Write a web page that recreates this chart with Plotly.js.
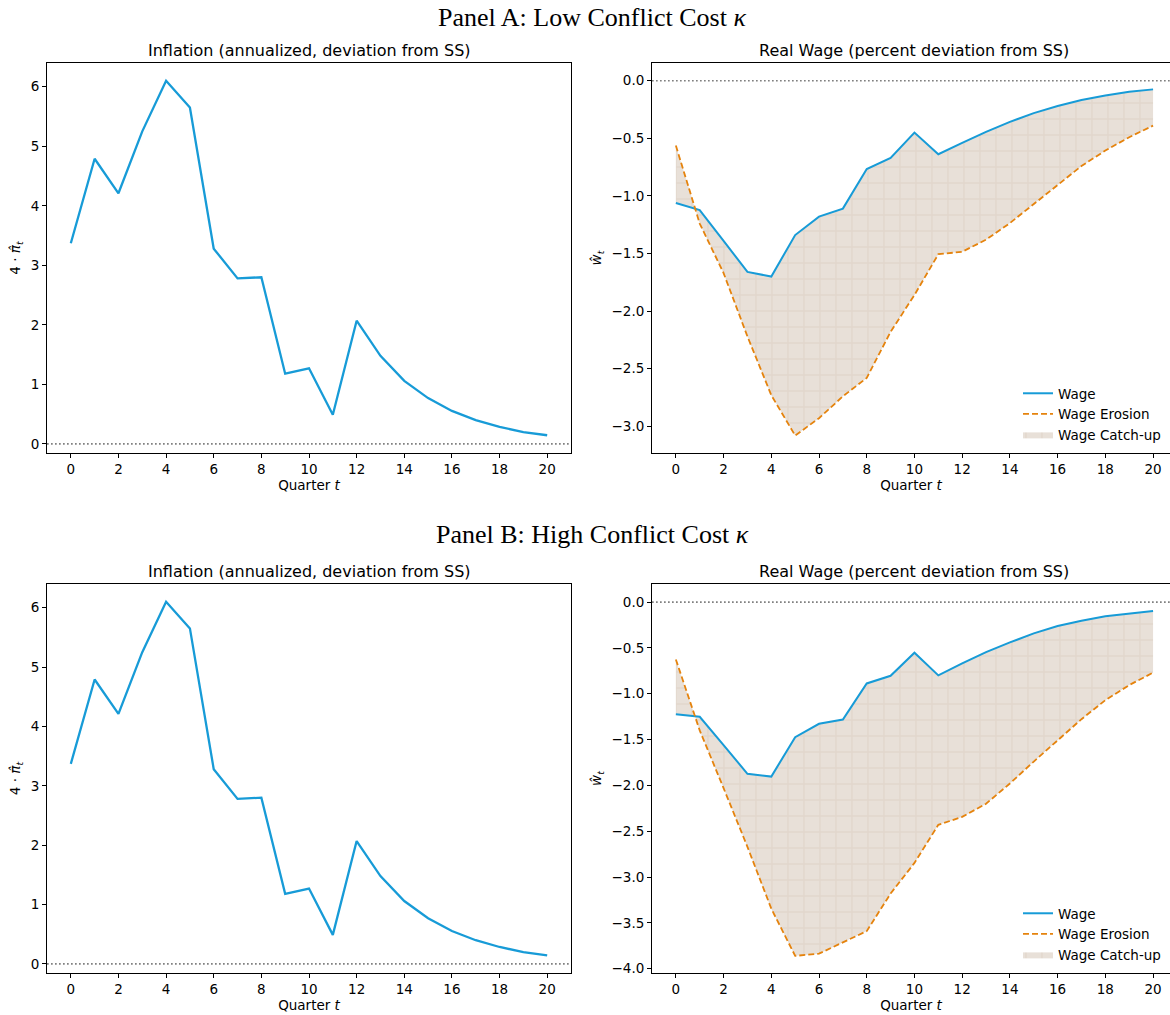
<!DOCTYPE html>
<html>
<head>
<meta charset="utf-8">
<script src="https://cdn.plot.ly/plotly-3.0.1.min.js"></script>
<style>
html,body{margin:0;padding:0;background:#fff;}
#chart{width:1170px;height:1015px;}
</style>
</head>
<body>
<div id="chart"></div>
<script>
// ---------------- data ----------------
const quarters = [0,1,2,3,4,5,6,7,8,9,10,11,12,13,14,15,16,17,18,19,20];

const inflationA = [3.37,4.79,4.21,5.25,6.10,5.65,3.28,2.78,2.80,1.18,1.27,0.49,2.07,1.48,1.06,0.77,0.555,0.40,0.286,0.20,0.146];
const inflationB = [3.37,4.79,4.21,5.25,6.10,5.65,3.28,2.78,2.80,1.18,1.27,0.49,2.07,1.48,1.06,0.77,0.555,0.40,0.286,0.20,0.146];

const wageA    = [-1.062,-1.123,-1.39,-1.66,-1.70,-1.34,-1.18,-1.11,-0.766,-0.67,-0.45,-0.638,-0.54,-0.444,-0.357,-0.281,-0.22,-0.168,-0.128,-0.096,-0.075];
const erosionA = [-0.563,-1.24,-1.67,-2.22,-2.73,-3.08,-2.93,-2.74,-2.58,-2.18,-1.86,-1.506,-1.485,-1.38,-1.236,-1.07,-0.90,-0.74,-0.606,-0.49,-0.39];

const wageB    = [-1.223,-1.252,-1.56,-1.874,-1.904,-1.474,-1.328,-1.281,-0.888,-0.804,-0.553,-0.80,-0.67,-0.546,-0.44,-0.342,-0.262,-0.204,-0.156,-0.124,-0.098];
const erosionB = [-0.626,-1.40,-2.03,-2.67,-3.345,-3.86,-3.836,-3.71,-3.59,-3.18,-2.846,-2.43,-2.344,-2.20,-1.98,-1.74,-1.507,-1.278,-1.07,-0.906,-0.77];

const xTicks = [0,2,4,6,8,10,12,14,16,18,20];
const inflTicks = [0,1,2,3,4,5,6];
const wageTicksA = [0,-0.5,-1,-1.5,-2,-2.5,-3];
const wageTicksB = [0,-0.5,-1,-1.5,-2,-2.5,-3,-3.5,-4];

const panelTitles = ["Panel A: Low Conflict Cost <i>κ</i>", "Panel B: High Conflict Cost <i>κ</i>"];
const leftTitle = "Inflation (annualized, deviation from SS)";
const rightTitle = "Real Wage (percent deviation from SS)";
const seriesNames = ["Wage", "Wage Erosion", "Wage Catch-up"];

// ---------------- style ----------------
const BLUE = "#179bd7";
const ORANGE = "#e5830d";
const FILLBG = "#e8e0d8";
const FILLFG = "#d9cdbf";
const FONT = "DejaVu Sans, sans-serif";
const TICK = 13.5;

function inflTrace(y, xa, ya){
  return {x: quarters, y: y, xaxis: xa, yaxis: ya, type: "scatter", mode: "lines",
    line: {color: BLUE, width: 2.3}, showlegend: false, hoverinfo: "skip"};
}
function wageTraces(w, e, xa, ya, lg){
  return [
    {x: quarters, y: e, xaxis: xa, yaxis: ya, type: "scatter", mode: "lines",
     line: {width: 0, color: "rgba(0,0,0,0)"}, showlegend: false, hoverinfo: "skip"},
    {x: quarters, y: w, xaxis: xa, yaxis: ya, type: "scatter", mode: "lines",
     fill: "tonexty", fillcolor: FILLBG,
     fillpattern: {shape: "+", size: 16, solidity: 0.16, fgcolor: FILLFG, bgcolor: FILLBG, fillmode: "overlay"},
     line: {width: 0, color: FILLBG}, name: seriesNames[2], legend: lg, legendrank: 3, hoverinfo: "skip"},
    {x: quarters, y: w, xaxis: xa, yaxis: ya, type: "scatter", mode: "lines",
     line: {color: BLUE, width: 2}, name: seriesNames[0], legend: lg, legendrank: 1},
    {x: quarters, y: e, xaxis: xa, yaxis: ya, type: "scatter", mode: "lines",
     line: {color: ORANGE, width: 1.8, dash: "6px,3px"}, name: seriesNames[1], legend: lg, legendrank: 2}
  ];
}

const data = [
  inflTrace(inflationA, "x", "y"),
  ...wageTraces(wageA, erosionA, "x2", "y2", "legend"),
  inflTrace(inflationB, "x3", "y3"),
  ...wageTraces(wageB, erosionB, "x4", "y4", "legend2")
];

const W = 1170, H = 1015;
const px = v => v / W;
const py = v => 1 - v / H;

const LX = [px(47), px(571)];
const RX = [px(652), 1];
const TY = [py(453), py(63)];
const BY = [py(973), py(584)];

function xax(domain, anchor, right){
  return {domain: domain, anchor: anchor, range: right ? [-1, 20.71] : [-1, 21],
    tickvals: xTicks, ticks: "outside", ticklen: 4, tickwidth: 1, tickcolor: "#000",
    showline: true, linecolor: "#000", linewidth: 1, mirror: true,
    showgrid: false, zeroline: false,
    tickfont: {family: FONT, size: TICK, color: "#000"},
    title: {text: "Quarter <i>t</i>", font: {family: FONT, size: TICK, color: "#000"}, standoff: 3}};
}
function yax(domain, anchor, range, ticks, fmt, title, mirror){
  return {domain: domain, anchor: anchor, range: range,
    tickvals: ticks, tickformat: fmt, ticks: "outside", ticklen: 4, tickwidth: 1, tickcolor: "#000",
    showline: true, linecolor: "#000", linewidth: 1, mirror: mirror,
    showgrid: false, zeroline: false,
    tickfont: {family: FONT, size: TICK, color: "#000"},
    title: {text: title, font: {family: FONT, size: TICK, color: "#000"}, standoff: 6}};
}

const yInflTitle = "4 · <i>π̂</i><sub><i>t</i></sub>";
const yWageTitle = "<i>ŵ</i><sub><i>t</i></sub>";

function zeroLine(xr, yr){
  return {type: "line", xref: xr + " domain", yref: yr, x0: 0, x1: 1, y0: 0, y1: 0,
    line: {color: "#808080", width: 1.7, dash: "1.7px,2.3px"}, layer: "below"};
}

const annotations = [
  {text: panelTitles[0], x: px(592), y: py(18), xref: "paper", yref: "paper", showarrow: false,
   font: {family: "Liberation Serif, serif", size: 26, color: "#000"}, xanchor: "center", yanchor: "middle"},
  {text: panelTitles[1], x: px(592), y: py(534), xref: "paper", yref: "paper", showarrow: false,
   font: {family: "Liberation Serif, serif", size: 26, color: "#000"}, xanchor: "center", yanchor: "middle"},
  {text: leftTitle, x: px(309), y: py(50), xref: "paper", yref: "paper", showarrow: false,
   font: {family: FONT, size: 16, color: "#000"}, xanchor: "center", yanchor: "middle"},
  {text: rightTitle, x: px(914), y: py(50), xref: "paper", yref: "paper", showarrow: false,
   font: {family: FONT, size: 16, color: "#000"}, xanchor: "center", yanchor: "middle"},
  {text: leftTitle, x: px(309), y: py(571), xref: "paper", yref: "paper", showarrow: false,
   font: {family: FONT, size: 16, color: "#000"}, xanchor: "center", yanchor: "middle"},
  {text: rightTitle, x: px(914), y: py(571), xref: "paper", yref: "paper", showarrow: false,
   font: {family: FONT, size: 16, color: "#000"}, xanchor: "center", yanchor: "middle"}
];

const legendStyle = (ytop) => ({x: px(1018), y: py(ytop), xanchor: "left", yanchor: "top",
  bgcolor: "rgba(0,0,0,0)", borderwidth: 0, tracegroupgap: 0, itemwidth: 30, traceorder: "normal",
  font: {family: FONT, size: TICK, color: "#000"}});

const layout = {
  width: W, height: H,
  margin: {l: 0, r: 0, t: 0, b: 0},
  paper_bgcolor: "#fff", plot_bgcolor: "#fff",
  font: {family: FONT, size: TICK, color: "#000"},
  xaxis: xax(LX, "y", false),
  yaxis: yax(TY, "x", [-0.152, 6.398], inflTicks, "d", yInflTitle, true),
  xaxis2: xax(RX, "y2", true),
  yaxis2: yax(TY, "x2", [-3.232, 0.154], wageTicksA, ".1f", yWageTitle, false),
  xaxis3: xax(LX, "y3", false),
  yaxis3: yax(BY, "x3", [-0.152, 6.398], inflTicks, "d", yInflTitle, true),
  xaxis4: xax(RX, "y4", true),
  yaxis4: yax(BY, "x4", [-4.047, 0.197], wageTicksB, ".1f", yWageTitle, false),
  shapes: [zeroLine("x", "y"), zeroLine("x2", "y2"), zeroLine("x3", "y3"), zeroLine("x4", "y4")],
  annotations: annotations,
  legend: legendStyle(378),
  legend2: legendStyle(898),
  showlegend: true
};

Plotly.newPlot("chart", data, layout, {staticPlot: true, displayModeBar: false});
</script>
</body>
</html>
